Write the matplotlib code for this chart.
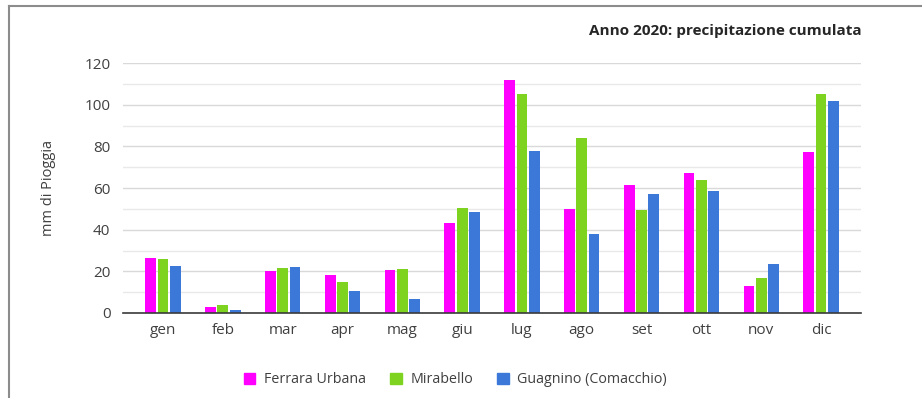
import matplotlib.pyplot as plt
import numpy as np
from matplotlib.lines import Line2D
from matplotlib.ticker import MultipleLocator

plt.rcParams['font.family'] = ['Open Sans', 'DejaVu Sans']

mesi = ["gen", "feb", "mar", "apr", "mag", "giu", "lug", "ago", "set", "ott", "nov", "dic"]
stazioni = ["Ferrara Urbana", "Mirabello", "Guagnino (Comacchio)"]
colori = ["#ff00ff", "#7ed321", "#3c78d8"]

# precipitazione cumulata mensile (mm)
ferrara = [26.6, 2.9, 20.0, 18.1, 20.8, 43.4, 111.7, 49.9, 61.4, 67.0, 12.8, 77.3]
mirabello = [25.9, 3.7, 21.4, 14.9, 21.0, 50.4, 105.0, 84.2, 49.3, 64.0, 16.8, 105.0]
guagnino = [22.4, 1.6, 22.1, 10.4, 6.9, 48.5, 77.8, 37.8, 57.0, 58.4, 23.5, 101.8]

fig = plt.figure(figsize=(9.22, 3.98), dpi=100)
ax = fig.add_axes([0.1334, 0.2136, 0.8005, 0.628])

x = np.arange(len(mesi))
w = 0.18
for i, (serie, col) in enumerate(zip([ferrara, mirabello, guagnino], colori)):
    ax.bar(x + (i - 1) * 0.205, serie, width=w, color=col, zorder=3)

ax.set_xlim(-0.67, len(mesi) - 1 + 0.67)
ax.set_ylim(0, 120)
ax.yaxis.set_major_locator(MultipleLocator(20))
ax.yaxis.set_minor_locator(MultipleLocator(10))
ax.grid(axis='y', which='major', color='#d9d9d9', linewidth=1, zorder=0)
ax.grid(axis='y', which='minor', color='#e9e9e9', linewidth=1, zorder=0)

for s in ['top', 'right', 'left']:
    ax.spines[s].set_visible(False)
ax.spines['bottom'].set_color('#3a3a3a')
ax.spines['bottom'].set_linewidth(1.2)
ax.spines['bottom'].set_zorder(4)

ax.set_xticks(x)
ax.set_xticklabels(mesi)
ax.tick_params(axis='both', which='both', length=0, labelsize=11, colors='#404040')
ax.tick_params(axis='y', pad=9)
ax.tick_params(axis='x', pad=7)
ax.set_ylabel("mm di Pioggia", fontsize=10.5, color='#404040')
ax.yaxis.set_label_coords(-0.091, 0.5)

fig.text(0.934, 0.922, "Anno 2020: precipitazione cumulata", ha='right', va='center',
         fontsize=11, fontweight='bold', color='#262626')

# cornice grigia in alto e a sinistra
fig.add_artist(Line2D([0.0098, 0.0098], [0, 0.985], transform=fig.transFigure, color='#8c8c8c', linewidth=1.5))
fig.add_artist(Line2D([0.0098, 1.0], [0.985, 0.985], transform=fig.transFigure, color='#8c8c8c', linewidth=1.5))

handles = [plt.Rectangle((0, 0), 1, 1, color=c) for c in colori]
fig.legend(handles, stazioni, loc='center', bbox_to_anchor=(0.494, 0.046), ncol=3,
           frameon=False, fontsize=10.3, handlelength=0.8, handleheight=0.8,
           handletextpad=0.6, columnspacing=1.7, labelcolor='#404040')

fig.savefig("out.png", dpi=100, facecolor='white')
